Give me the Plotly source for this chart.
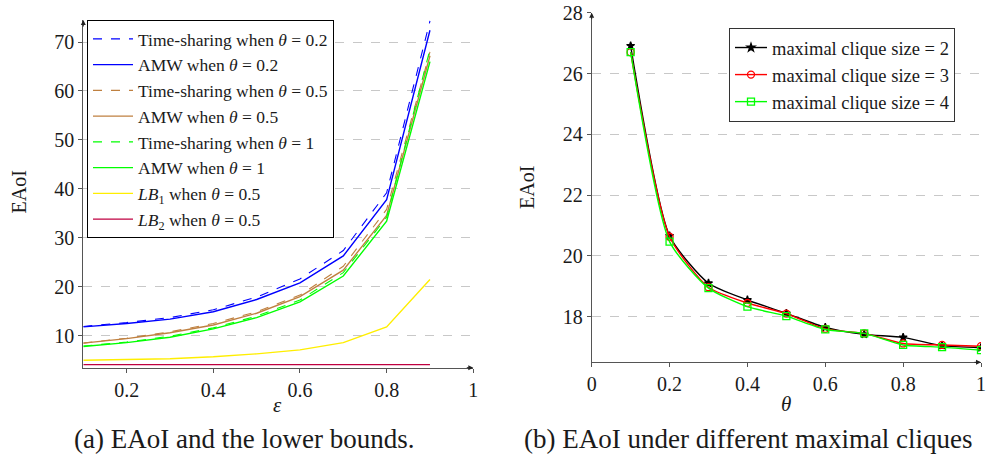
import plotly.graph_objects as go

# ---------------- data: left panel ----------------
eps = [0.1, 0.2, 0.3, 0.4, 0.5, 0.6, 0.7, 0.8, 0.9]
ts_02 = [11.9, 12.7, 13.7, 15.3, 17.9, 21.6, 27.4, 39.2, 74.3]
amw_02 = [11.8, 12.5, 13.4, 14.9, 17.4, 20.8, 26.3, 37.8, 72.4]
ts_05 = [8.5, 9.5, 10.8, 12.5, 14.9, 18.3, 24.2, 35.8, 68.0]
amw_05 = [8.5, 9.4, 10.6, 12.2, 14.6, 18.0, 23.4, 34.6, 67.2]
ts_1 = [7.9, 8.7, 9.9, 11.6, 14.0, 17.3, 22.9, 34.2, 68.5]
amw_1 = [7.8, 8.6, 9.7, 11.4, 13.7, 16.9, 22.2, 33.4, 66.0]
lb1_05 = [5.0, 5.1, 5.3, 5.7, 6.3, 7.1, 8.6, 11.8, 21.5]
lb2_05 = [4.1, 4.1, 4.1, 4.1, 4.1, 4.1, 4.1, 4.1, 4.1]

# ---------------- data: right panel ----------------
theta = [0.1, 0.2, 0.3, 0.4, 0.5, 0.6, 0.7, 0.8, 0.9, 1.0]
clique2 = [26.91, 20.66, 19.10, 18.55, 18.11, 17.65, 17.42, 17.32, 17.05, 16.98]
clique3 = [26.70, 20.63, 18.97, 18.45, 18.10, 17.60, 17.45, 17.12, 17.07, 17.03]
clique4 = [26.70, 20.47, 18.94, 18.33, 18.02, 17.58, 17.45, 17.07, 17.00, 16.90]

left_xticks = [0.2, 0.4, 0.6, 0.8, 1.0]
left_xlabels = ["0.2", "0.4", "0.6", "0.8", "1"]
left_yticks = [10, 20, 30, 40, 50, 60, 70]
right_xticks = [0, 0.2, 0.4, 0.6, 0.8, 1.0]
right_xlabels = ["0", "0.2", "0.4", "0.6", "0.8", "1"]
right_yticks = [18, 20, 22, 24, 26, 28]

FONT = "Liberation Serif"
TXT = "#1a1a1a"
W, H = 989, 464


def px_x(p):
    return p / W


def px_y(p):
    return (H - p) / H


fig = go.Figure()

BLUE = "#0000FF"
BROWN = "#BF8040"
GREEN = "#00FF00"
YELLOW = "#FFEE00"
PURPLE = "#BF0040"

left_series = [
    ("Time-sharing when <i>θ</i> = 0.2", ts_02, BLUE, "dash", 1.1),
    ("AMW when <i>θ</i> = 0.2", amw_02, BLUE, "solid", 1.4),
    ("Time-sharing when <i>θ</i> = 0.5", ts_05, BROWN, "dash", 1.1),
    ("AMW when <i>θ</i> = 0.5", amw_05, BROWN, "solid", 1.4),
    ("Time-sharing when <i>θ</i> = 1", ts_1, GREEN, "dash", 1.1),
    ("AMW when <i>θ</i> = 1", amw_1, GREEN, "solid", 1.4),
    ("<i>LB</i><sub>1</sub> when <i>θ</i> = 0.5", lb1_05, YELLOW, "solid", 1.4),
    ("<i>LB</i><sub>2</sub> when <i>θ</i> = 0.5", lb2_05, PURPLE, "solid", 1.4),
]
for i, (name, ys, col, dash, w) in enumerate(left_series):
    fig.add_trace(go.Scatter(
        x=eps, y=ys, mode="lines", name=name,
        line=dict(color=col, dash=dash, width=w),
        xaxis="x", yaxis="y", legend="legend",
    ))

right_series = [
    ("maximal clique size = 2", clique2, "#000000", "star", 6),
    ("maximal clique size = 3", clique3, "#FF0000", "circle-open", 7),
    ("maximal clique size = 4", clique4, GREEN, "square-open", 7),
]
for i, (name, ys, col, sym, ms) in enumerate(right_series):
    fig.add_trace(go.Scatter(
        x=theta, y=ys, mode="lines+markers", name=name,
        line=dict(color=col, width=1.4, shape="spline", smoothing=0.6),
        marker=dict(symbol=sym, size=ms, color=col, line=dict(color=col, width=1.3)),
        xaxis="x2", yaxis="y2", legend="legend2",
    ))

axis_common = dict(
    showline=True, linecolor="#555555", linewidth=1,
    ticks="outside", ticklen=4, tickcolor="#555555",
    tickfont=dict(family=FONT, size=20, color=TXT),
    zeroline=False, automargin=False,
)

fig.update_layout(
    width=W, height=H,
    margin=dict(l=0, r=0, t=0, b=0, pad=0),
    paper_bgcolor="white", plot_bgcolor="white",
    font=dict(family=FONT, color=TXT),
    xaxis=dict(domain=[px_x(83.3), px_x(473.3)], range=[0.1, 1.0],
               tickvals=left_xticks, ticktext=left_xlabels,
               showgrid=False, anchor="y", **axis_common),
    yaxis=dict(domain=[px_y(367.7), px_y(20)], range=[3.47, 74.5],
               tickvals=left_yticks, showgrid=True, gridcolor="#C8C8C8",
               griddash="dash", gridwidth=1, anchor="x", **axis_common),
    xaxis2=dict(domain=[px_x(591.7), px_x(981)], range=[0, 1.0],
                tickvals=right_xticks, ticktext=right_xlabels,
                showgrid=False, anchor="y2", **axis_common),
    yaxis2=dict(domain=[px_y(362.3), px_y(12.7)], range=[16.5, 28],
                tickvals=right_yticks, showgrid=True, gridcolor="#C8C8C8",
                griddash="dash", gridwidth=1, anchor="x2", **axis_common),
    legend=dict(x=px_x(87), y=px_y(20), xanchor="left", yanchor="top",
                bgcolor="white", bordercolor="#000000", borderwidth=1,
                font=dict(family=FONT, size=17.5, color=TXT),
                tracegroupgap=0, itemwidth=40),
    legend2=dict(x=px_x(729), y=px_y(28), xanchor="left", yanchor="top",
                 bgcolor="white", bordercolor="#333333", borderwidth=1,
                 font=dict(family=FONT, size=18.5, color=TXT),
                 tracegroupgap=0, itemwidth=32),
    showlegend=True,
)

ann = []
# axis arrows
for xr, yr, x, y, ax, ay in [
    ("x", "y", 1.0, 3.47, -8, 0), ("x", "y", 0.1, 74.5, 0, 8),
    ("x2", "y2", 1.0, 16.5, -8, 0), ("x2", "y2", 0.0, 28, 0, 8),
]:
    ann.append(dict(xref=xr, yref=yr, x=x, y=y, ax=ax, ay=ay, text="",
                    showarrow=True, arrowhead=2, arrowsize=1, arrowwidth=1,
                    arrowcolor="#222222"))


def label(x, y, text, size, angle=0):
    return dict(xref="paper", yref="paper", x=px_x(x), y=px_y(y), text=text,
                textangle=angle, showarrow=False, xanchor="center",
                yanchor="middle", font=dict(family=FONT, size=size, color=TXT))


ann += [
    label(18.5, 192, "EAoI", 20, -90),
    label(277, 405, "<i>ε</i>", 21),
    label(527, 188, "EAoI", 20, -90),
    label(786, 404, "<i>θ</i>", 21),
    label(243.5, 439, "(a) EAoI and the lower bounds.", 27),
    label(748, 439, "(b) EAoI under different maximal cliques", 27),
]
fig.update_layout(annotations=ann)

fig.write_html("out.html")
